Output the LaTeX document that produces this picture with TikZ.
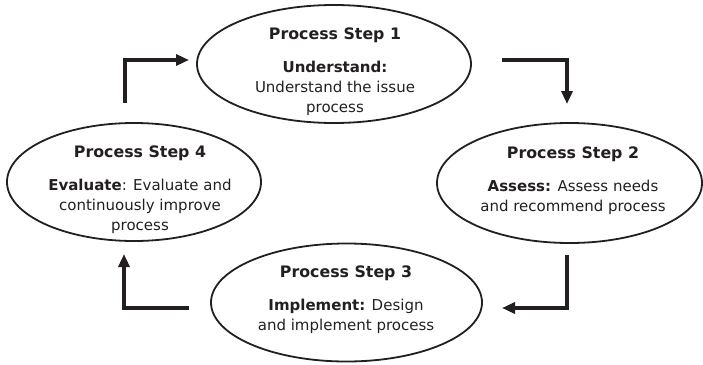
\documentclass[tikz,border=0pt]{standalone}
\usepackage{fontspec}
\setmainfont{DejaVu Sans}
\usetikzlibrary{shapes.geometric,arrows.meta}
\definecolor{ink}{HTML}{231F20}
\newcommand\ttl[1]{{\fontsize{15.8}{20}\selectfont\bfseries #1}\\[13pt]}
\begin{document}
\begin{tikzpicture}[x=1pt,y=-1pt,
  ell/.style={draw=ink, line width=1.8pt, ellipse, inner sep=0pt},
  txt/.style={align=center, text=ink, font=\fontsize{15}{20}\selectfont, inner sep=0pt},
  flow/.style={draw=ink, line width=3.8pt, -{Triangle[length=13pt,width=11pt]}}]
\useasboundingbox (0,0) rectangle (703,364);
% ellipses
\node[ell, minimum width=274pt, minimum height=118pt] (e1) at (334,64) {};
\node[ell, minimum width=265pt, minimum height=120pt] (e2) at (569.5,183) {};
\node[ell, minimum width=271pt, minimum height=118pt] (e3) at (346.5,302.5) {};
\node[ell, minimum width=254pt, minimum height=118pt] (e4) at (134,182) {};
% texts
\node[txt] (t1) at (335,71.5) {\ttl{Process Step 1}\textbf{Understand:}\\Understand the issue\\process};
\node[txt] (t2) at (573,180.5) {\ttl{Process Step 2}\textbf{Assess:} Assess needs\\and recommend process};
\node[txt] (t3) at (346,299.5) {\ttl{Process Step 3}\textbf{Implement:} Design\\and implement process};
\node[txt] (t4) at (140,189.5) {\ttl{Process Step 4}\textbf{Evaluate}: Evaluate and\\continuously improve\\process};
% connectors
\coordinate (a1s) at (125,103); \coordinate (a1e) at (189,60);
\coordinate (a2s) at (502,60);  \coordinate (a2e) at (567,104);
\coordinate (a3s) at (567,255); \coordinate (a3e) at (502,308);
\coordinate (a4s) at (189,308); \coordinate (a4e) at (124,254);
\draw[flow] (a1s) |- (a1e);
\draw[flow] (a2s) -| (a2e);
\draw[flow] (a3s) |- (a3e);
\draw[flow] (a4s) -| (a4e);
\end{tikzpicture}
\end{document}
